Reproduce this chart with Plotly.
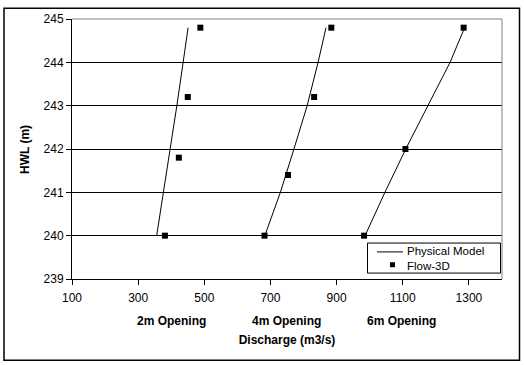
import plotly.graph_objects as go

# Physical model (lines)
pm_hwl = [240, 241, 242, 243, 244, 244.8]
pm_q_2m = [356, 377, 398, 417, 436, 451]
pm_q_4m = [683, 730, 771, 811, 844, 868]
pm_q_6m = [986, 1046, 1109, 1176, 1243, 1287]

# Flow-3D (markers)
f3d_hwl_2m = [240, 241.8, 243.2, 244.8]
f3d_q_2m = [381, 423, 450, 488]
f3d_hwl_4m = [240, 241.4, 243.2, 244.8]
f3d_q_4m = [682, 753, 832, 884]
f3d_hwl_6m = [240, 242, 244.8]
f3d_q_6m = [983, 1108, 1284]

opening_labels = ["2m Opening", "4m Opening", "6m Opening"]
x_ticks = [100, 300, 500, 700, 900, 1100, 1300]
y_ticks = [239, 240, 241, 242, 243, 244, 245]

FONT = "Liberation Sans, Arial, sans-serif"

fig = go.Figure()
for q in (pm_q_2m, pm_q_4m, pm_q_6m):
    fig.add_trace(go.Scatter(x=q, y=pm_hwl, mode="lines", name="Physical Model",
                             line=dict(color="black", width=1), showlegend=False))
for q, h in ((f3d_q_2m, f3d_hwl_2m), (f3d_q_4m, f3d_hwl_4m), (f3d_q_6m, f3d_hwl_6m)):
    fig.add_trace(go.Scatter(x=q, y=h, mode="markers", name="Flow-3D",
                             marker=dict(symbol="square", size=6, color="black"),
                             showlegend=False))

L, R, T, B = 72, 22, 15, 86
W, H = 524, 365
pw, ph = W - L - R, H - T - B

def px(x):
    return (x - L) / pw

def py(y):
    return (H - B - y) / ph

shapes = [
    # outer chart border
    dict(type="rect", xref="paper", yref="paper", x0=px(4), x1=px(519.5), y0=py(4), y1=py(361.5),
         line=dict(color="black", width=1.5), layer="above"),
    # gray top/right plot border
    dict(type="line", xref="paper", yref="paper", x0=0, x1=1, y0=1, y1=1,
         line=dict(color="#808080", width=1), layer="above"),
    dict(type="line", xref="paper", yref="paper", x0=1, x1=1, y0=0, y1=1,
         line=dict(color="#808080", width=1), layer="above"),
    # legend box
    dict(type="rect", xref="paper", yref="paper", x0=px(367.5), x1=px(500.5), y0=py(242.5), y1=py(273),
         line=dict(color="black", width=1), fillcolor="white", layer="above"),
    dict(type="line", xref="paper", yref="paper", x0=px(377), x1=px(403), y0=py(251.5), y1=py(251.5),
         line=dict(color="black", width=1), layer="above"),
    dict(type="rect", xref="paper", yref="paper", x0=px(390), x1=px(395), y0=py(262), y1=py(267),
         line=dict(width=0), fillcolor="black", layer="above"),
]

annotations = [
    dict(text="Physical Model", xref="paper", yref="paper", x=px(406), y=py(250.5),
         xanchor="left", yanchor="middle", showarrow=False, borderpad=0,
         font=dict(family=FONT, size=11.5, color="black")),
    dict(text="Flow-3D", xref="paper", yref="paper", x=px(406), y=py(265.5),
         xanchor="left", yanchor="middle", showarrow=False, borderpad=0,
         font=dict(family=FONT, size=11.5, color="black")),
    dict(text="<b>HWL (m)</b>", xref="paper", yref="paper", x=px(25), y=py(148),
         xanchor="center", yanchor="middle", textangle=-90, showarrow=False,
         font=dict(family=FONT, size=12, color="black")),
]
for lbl, xc in zip(opening_labels, (171.7, 286.7, 401.7)):
    annotations.append(dict(text="<b>%s</b>" % lbl, xref="paper", yref="paper", x=px(xc), y=py(321.7),
                            xanchor="center", yanchor="middle", showarrow=False,
                            font=dict(family=FONT, size=12, color="black")))

fig.update_layout(
    width=W, height=H,
    margin=dict(l=L, r=R, t=T, b=B),
    paper_bgcolor="white", plot_bgcolor="white",
    font=dict(family=FONT, size=12, color="black"),
    shapes=shapes, annotations=annotations,
    showlegend=False,
)
fig.update_xaxes(range=[100, 1400], tickvals=x_ticks, ticks="outside", ticklen=5, tickcolor="black",
                 showline=True, linecolor="black", linewidth=1, showgrid=False, zeroline=False,
                 ticklabelstandoff=3,
                 tickfont=dict(family=FONT, size=12, color="black"),
                 title=dict(text="<b>Discharge (m3/s)</b>", standoff=31,
                            font=dict(family=FONT, size=12, color="black")))
fig.update_yaxes(range=[239, 245], tickvals=y_ticks, ticks="outside", ticklen=5, tickcolor="black",
                 showline=True, linecolor="black", linewidth=1, showgrid=True, gridcolor="black",
                 gridwidth=1, zeroline=False,
                 tickfont=dict(family=FONT, size=12, color="black"))

fig.write_html("out.html", config={"displayModeBar": False},
               post_script="document.body.style.margin='0px';")
